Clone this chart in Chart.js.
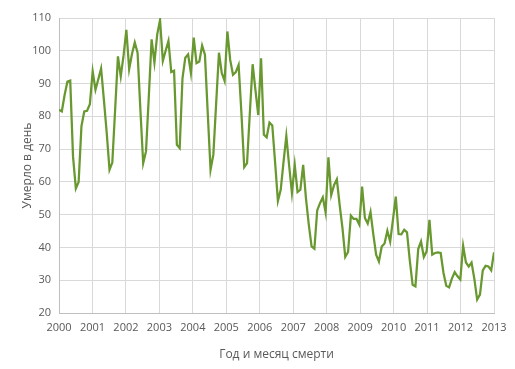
<!DOCTYPE html>
<html>
<head>
<meta charset="utf-8">
<script src="https://cdn.jsdelivr.net/npm/chart.js@4/dist/chart.umd.min.js"></script>
<style>
  html, body { margin: 0; padding: 0; background: #ffffff; }
  #c { display: block; }
</style>
</head>
<body>
<canvas id="c" width="515" height="369"></canvas>
<script>
// Tick labels
const yearLabels = [2000, 2001, 2002, 2003, 2004, 2005, 2006, 2007, 2008, 2009, 2010, 2011, 2012, 2013];
const yTickValues = [20, 30, 40, 50, 60, 70, 80, 90, 100, 110];

// Deaths per day, monthly series (Jan 2000 .. Dec 2012)
const deathsPerDay = [
  82.0, 81.5, 86.5, 90.6, 90.9, 67.7, 58.0, 60.0, 77.0, 81.5, 81.7, 83.7,
  93.7, 88.1, 91.3, 94.6, 85.0, 75.0, 63.7, 65.9, 82.0, 98.3, 92.2, 98.5,
  106.4, 94.4, 99.0, 102.5, 99.4, 82.0, 65.7, 69.3, 86.0, 103.5, 96.4, 105.0,
  109.4, 96.9, 100.0, 103.0, 93.5, 93.9, 71.3, 70.3, 91.6, 97.9, 98.9, 93.2,
  104.0, 96.2, 96.7, 101.6, 98.8, 81.0, 63.7, 68.3, 84.0, 99.4, 93.2, 90.8,
  105.9, 97.2, 92.7, 93.5, 95.7, 81.0, 64.5, 65.7, 81.0, 95.9, 88.0, 80.4,
  97.7, 74.4, 73.6, 78.1, 77.2, 66.0, 54.2, 57.6, 66.0, 74.0, 65.0, 56.6,
  65.2, 56.9, 57.6, 65.2, 55.0, 47.0, 40.3, 39.6, 51.3, 53.5, 55.3, 50.7,
  67.5, 56.0, 59.0, 60.8, 53.0, 46.0, 37.1, 38.6, 49.7, 48.7, 48.7, 47.0,
  58.6, 49.0, 47.3, 50.8, 44.0, 37.8, 35.7, 40.3, 41.2, 45.1, 41.8, 48.5,
  55.5, 44.1, 44.0, 45.4, 44.6, 36.0, 28.6, 28.1, 39.5, 41.8, 37.1, 38.8,
  48.4, 37.8, 38.3, 38.5, 38.3, 32.2, 28.3, 27.8, 30.5, 32.5, 31.2, 30.2,
  40.5, 35.4, 34.2, 35.4, 30.4, 24.1, 25.6, 33.0, 34.4, 34.2, 33.0, 38.5
];

const xTitle = 'Год и месяц смерти';
const yTitle = 'Умерло в день';

// Points are spread evenly over the labelled year span (first at 2000, last at 2013)
const firstYear = yearLabels[0];
const lastYear = yearLabels[yearLabels.length - 1];
const points = deathsPerDay.map((v, i) => ({
  x: firstYear + i * (lastYear - firstYear) / (deathsPerDay.length - 1),
  y: v
}));

const textColor = '#595959';
const gridColor = '#d9d9d9';
const axisColor = '#bfbfbf';
const fontFamily = "'Open Sans', 'DejaVu Sans', sans-serif";

new Chart(document.getElementById('c'), {
  type: 'line',
  data: {
    datasets: [{
      data: points,
      borderColor: '#68982f',
      borderWidth: 2.25,
      pointRadius: 0,
      tension: 0,
      fill: false
    }]
  },
  options: {
    responsive: false,
    animation: false,
    devicePixelRatio: 1,
    layout: { padding: { left: 0, right: 21, top: 18, bottom: 0 } },
    plugins: { legend: { display: false }, tooltip: { enabled: false } },
    scales: {
      x: {
        type: 'linear',
        min: firstYear,
        max: lastYear,
        afterBuildTicks: s => { s.ticks = yearLabels.map(v => ({ value: v })); },
        afterFit: s => { s.height = 56; },
        grid: { color: gridColor, lineWidth: 1, drawTicks: false },
        border: { color: axisColor, width: 1 },
        ticks: {
          color: textColor,
          font: { family: fontFamily, size: 11 },
          padding: 8,
          maxRotation: 0,
          autoSkip: false,
          callback: v => String(v)
        },
        title: {
          display: true,
          text: xTitle,
          color: textColor,
          font: { family: fontFamily, size: 12 },
          padding: { top: 0, bottom: 7 }
        }
      },
      y: {
        min: yTickValues[0],
        max: yTickValues[yTickValues.length - 1],
        afterBuildTicks: s => { s.ticks = yTickValues.map(v => ({ value: v })); },
        afterFit: s => { s.width = 59; },
        grid: { color: gridColor, lineWidth: 1, drawTicks: false },
        border: { color: axisColor, width: 1 },
        ticks: {
          color: textColor,
          font: { family: fontFamily, size: 11 },
          padding: 8,
          callback: v => String(v)
        },
        title: {
          display: true,
          text: yTitle,
          color: textColor,
          font: { family: fontFamily, size: 12 },
          padding: { top: 20, bottom: 0 }
        }
      }
    }
  }
});
</script>
</body>
</html>
